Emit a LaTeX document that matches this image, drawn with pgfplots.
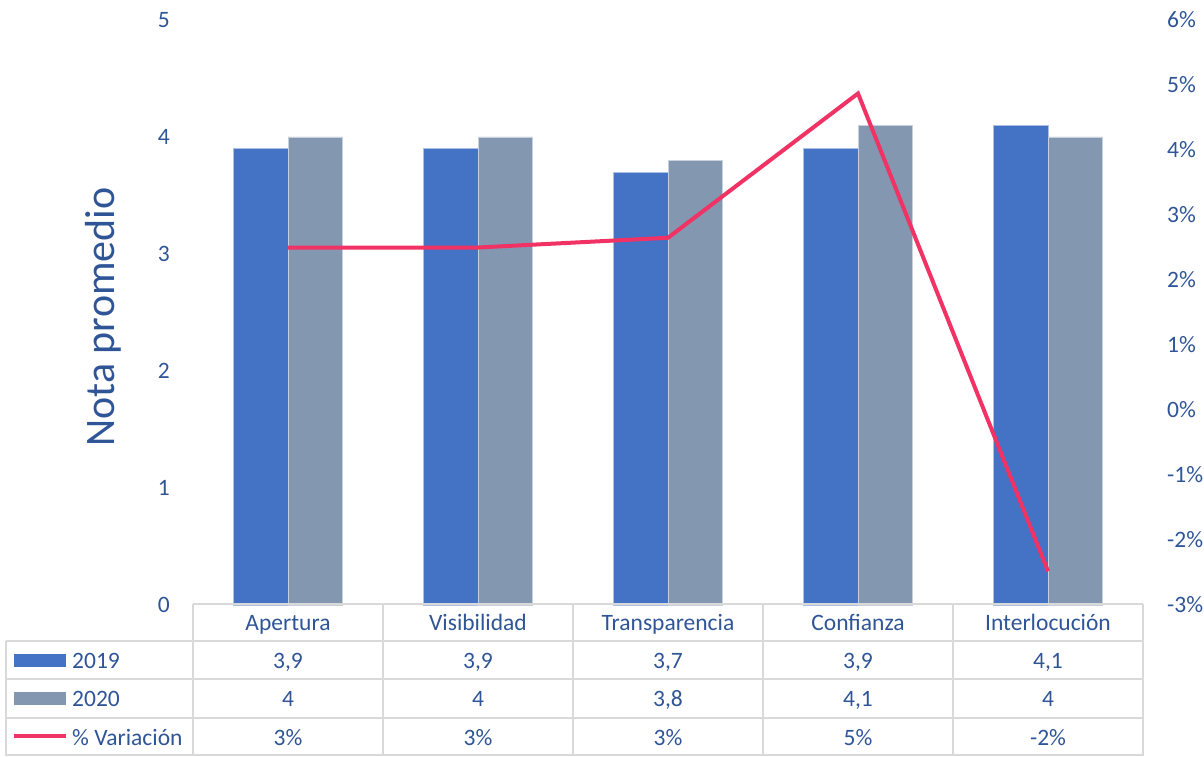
\documentclass[border=0pt]{standalone}
\usepackage{pgfplots}
\pgfplotsset{compat=1.18}
\usepackage{pgfplotstable}
\usepackage{fontspec}
\setmainfont{Carlito}

\definecolor{txtblue}{HTML}{2F5597}
\definecolor{bar19}{HTML}{4472C4}
\definecolor{bar20}{HTML}{8497B0}
\definecolor{varline}{HTML}{F03264}
\definecolor{gridgray}{HTML}{D9D9D9}

% average score per dimension and year-on-year change (%)
\pgfplotstableread{
x  y2019 y2020 var
0  3.9   4.0   2.50
1  3.9   4.0   2.50
2  3.7   3.8   2.65
3  3.9   4.1   4.87
4  4.1   4.0  -2.48
}\notas

\newcommand{\tfont}{\fontsize{23.5}{28}\selectfont}

\begin{document}
\begin{tikzpicture}
\path[use as bounding box] (0,0) rectangle (1204pt,756pt);

\pgfplotsset{
  base/.style={
    at={(193pt,151pt)}, anchor=south west,
    scale only axis, width=950pt, height=585pt,
    xmin=-0.5, xmax=4.5, xtick=\empty,
    axis line style={draw=none},
    major tick length=0pt,
    clip=false,
    /pgf/number format/assume math mode=true,
    ticklabel style={font=\tfont, text=txtblue, inner sep=0pt},
  }
}

\begin{axis}[base,
  ymin=0, ymax=5, ytick={0,1,2,3,4,5},
  yticklabel style={anchor=east, xshift=-23pt},
  ybar=0pt, bar width=54.5pt,
]
\addplot[fill=bar19, draw=white!55!bar19, line width=0.8pt] table[x=x, y=y2019] {\notas};
\addplot[fill=bar20, draw=white!55!bar20, line width=0.8pt] table[x=x, y=y2020] {\notas};
\end{axis}

\begin{axis}[base,
  ymin=-3, ymax=6, ytick={-3,...,6},
  axis y line*=right,
  yticklabel={\pgfmathprintnumber{\tick}\%},
  yticklabel style={anchor=west, xshift=24pt},
]
\addplot[varline, line width=4pt, line join=miter, no marks] table[x=x, y=var] {\notas};
\end{axis}

% y-axis title
\node[rotate=90, text=txtblue, font=\fontsize{42}{48}\selectfont] at (103pt,{756pt-317pt}) {Nota promedio};

% data table under the plot
\begin{scope}[shift={(0pt,756pt)}, yscale=-1, x=1pt, y=1pt]
  \begin{scope}[draw=gridgray, line width=2pt]
    \draw (193,604) -- (1143,604);
    \foreach \yy in {641,679,718,755} \draw (6,\yy) -- (1143,\yy);
    \draw (6,641) -- (6,756);
    \foreach \xx in {193,383,573,763,953,1143} \draw (\xx,604) -- (\xx,756);
  \end{scope}
  \begin{scope}[every node/.style={font=\tfont, text=txtblue, inner sep=0pt, anchor=base}]
    \node at (288,630) {Apertura};
    \node at (478,630) {Visibilidad};
    \node at (668,630) {Transparencia};
    \node at (858,630) {Confianza};
    \node at (1048,630) {Interlocución};
    % 2019
    \node at (288,668) {3,9};
    \node at (478,668) {3,9};
    \node at (668,668) {3,7};
    \node at (858,668) {3,9};
    \node at (1048,668) {4,1};
    % 2020
    \node at (288,706) {4};
    \node at (478,706) {4};
    \node at (668,706) {3,8};
    \node at (858,706) {4,1};
    \node at (1048,706) {4};
    % variation
    \node at (288,745) {3\%};
    \node at (478,745) {3\%};
    \node at (668,745) {3\%};
    \node at (858,745) {5\%};
    \node at (1048,745) {-2\%};
    % row headers with key swatches
    \fill[bar19] (14,654) rectangle (66,667);
    \fill[bar20] (14,692) rectangle (66,705);
    \draw[varline, line width=4pt] (14,736) -- (66,736);
    \node[anchor=base west] at (72,668) {2019};
    \node[anchor=base west] at (72,706) {2020};
    \node[anchor=base west] at (72,745) {\% Variación};
  \end{scope}
\end{scope}
\end{tikzpicture}
\end{document}
